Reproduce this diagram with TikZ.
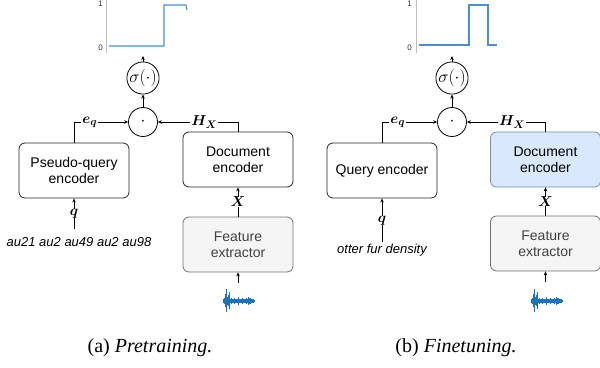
\documentclass[tikz,border=0pt]{standalone}
\usepackage{fontspec}
\usepackage{amsmath,bm}
\setsansfont{Liberation Sans}
\setmainfont{Liberation Serif}
\usetikzlibrary{arrows.meta}
\definecolor{sig}{HTML}{4A90D0}
\definecolor{wav}{HTML}{1A73C0}
\definecolor{bluedraw}{HTML}{6C8EBF}
\definecolor{bluefill}{HTML}{DAE8FC}
\tikzset{
  box/.style={draw=black!85,rounded corners=6pt,line width=0.8pt,minimum width=110pt,minimum height=55pt,align=center,font=\sffamily\fontsize{14}{16}\selectfont},
  featbox/.style={box,draw=black!55,fill=black!4,text=black!75},
  bluebox/.style={box,draw=bluedraw,fill=bluefill},
  opc/.style={draw,circle,line width=0.8pt,inner sep=0pt,font=\fontsize{18}{20}\selectfont},
  arr/.style={-{Stealth[length=4pt,width=3.5pt]},line width=0.8pt},
  lab/.style={fill=white,inner sep=1pt,font=\fontsize{15}{16}\selectfont},
  itxt/.style={font=\sffamily\itshape\fontsize{13}{15}\selectfont},
  captxt/.style={font=\fontsize{20}{22}\selectfont},
  ticklab/.style={font=\sffamily\fontsize{8}{9}\selectfont,text=black!80,inner sep=0pt},
  axisln/.style={draw=black!25,line width=0.8pt},
  sigl/.style={draw=sig,line width=1.1pt},
  wv/.style={draw=wav,line width=0.4pt}
}
\newcommand{\wave}[2]{%
  \draw[wv,line width=1pt] (#1-15,#2) -- (#1+17,#2);
  \foreach \dx/\h in {-15/2,-14/3,-13.3/4,-12.6/7,-12/12,-11.4/8,-10.7/4,-10/6,-9.3/9,-8.6/4,-8/2.5,-7/3.5,-6/2,-5/2.5,-4/3.5,-3/2.5,-2/2,-1/2.5,0/4,1/2.5,2/2,3/2.5,4/3.5,5/2.5,6/2,7/2.5,8/3.5,9/2.5,10/4,11/3,12/3.5,13/2.5,14/2,15/2,16/1.5}{
    \draw[wv] (#1+\dx,#2-\h) -- (#1+\dx,#2+\h*0.9);
  }
}
\begin{document}
\begin{tikzpicture}[x=1pt,y=-1pt]
\useasboundingbox (0,0) rectangle (600,367);
% ===== Left panel =====
\draw[axisln] (106,0) -- (106,53);
\node[ticklab,anchor=east] (l1) at (103,4) {1};
\node[ticklab,anchor=east] (l0) at (103,48) {0};
\draw[sigl] (109,46) -- (164,46) -- (164,5) -- (186,5) -- (187,10);
\node[opc,minimum size=31pt] (sa) at (143,78) {$\sigma(\cdot)$};
\node[opc,minimum size=29pt] (da) at (143,122) {$\cdot$};
\coordinate (pa) at (143,56);
\draw[arr] (sa.north) -- (pa);
\draw[arr] (da.north) -- (sa.south);
\node[box] (pq) at (74,170.5) {Pseudo-query\\encoder};
\node[box] (dea) at (238,159.5) {Document\\encoder};
\node[featbox] (fea) at (238,244.5) {Feature\\extractor};
\draw[arr] (pq.north) |- (da.west) node[lab,pos=0.647] {$\bm{e_q}$};
\draw[arr] (dea.north) |- (da.east) node[lab,pos=0.71] {$\bm{H_X}$};
\draw[arr] (fea.north) -- (dea.south) node[lab,midway,inner sep=0pt] {$\bm{X}$};
\coordinate (qa) at (74,229);
\draw[arr] (qa) -- (pq.south) node[lab,midway,inner sep=0pt] {$\bm{q}$};
\node[itxt] (ta) at (79,242) {au21 au2 au49 au2 au98};
\coordinate (wa) at (238,283);
\draw[arr] (wa) -- (fea.south);
\wave{238}{301}
\node[captxt] (ca) at (150,348) {(a) \textit{Pretraining.}};
% ===== Right panel =====
\draw[axisln] (416,0) -- (416,53);
\node[ticklab,anchor=east] (r1) at (412,4) {1};
\node[ticklab,anchor=east] (r0) at (412,48) {0};
\draw[sigl] (419,45) -- (469,45) -- (469,5) -- (488,5) -- (488,45) -- (497,45);
\node[opc,minimum size=31pt] (sb) at (452,78) {$\sigma(\cdot)$};
\node[opc,minimum size=29pt] (db) at (452,122) {$\cdot$};
\coordinate (pb) at (452,56);
\draw[arr] (sb.north) -- (pb);
\draw[arr] (db.north) -- (sb.south);
\node[box] (qe) at (382,170.5) {Query encoder};
\node[bluebox] (deb) at (545.5,159.5) {Document\\encoder};
\node[featbox] (feb) at (545.5,243.5) {Feature\\extractor};
\draw[arr] (qe.north) |- (db.west) node[lab,pos=0.644] {$\bm{e_q}$};
\draw[arr] (deb.north) |- (db.east) node[lab,pos=0.712] {$\bm{H_X}$};
\draw[arr] (feb.north) -- (deb.south) node[lab,midway,inner sep=0pt] {$\bm{X}$};
\coordinate (qb) at (382,242);
\draw[arr] (qb) -- (qe.south) node[lab,midway,inner sep=0pt] {$\bm{q}$};
\node[itxt] (tb) at (382,250) {otter fur density};
\coordinate (wb) at (545.5,282);
\draw[arr] (wb) -- (feb.south);
\wave{546}{301}
\node[captxt] (cb) at (456,348) {(b) \textit{Finetuning.}};
\end{tikzpicture}
\end{document}
